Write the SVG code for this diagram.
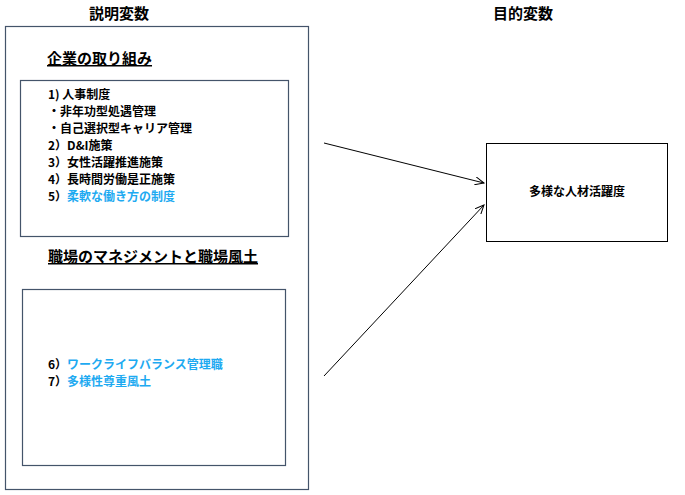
<svg xmlns="http://www.w3.org/2000/svg" width="685" height="495" viewBox="0 0 685 495">
<style>
.box{fill:#fff;stroke:#44546a;stroke-width:1.2}
.t{font-family:"Noto Sans CJK JP",sans-serif;font-weight:bold;font-size:12px;fill:#000}
.h{font-family:"Noto Sans CJK JP",sans-serif;font-weight:bold;font-size:15px;fill:#000}
.s{font-family:"Noto Sans CJK JP",serif;font-weight:bold;font-size:15px;fill:#000;text-decoration:underline}
.b{fill:#1eaaf1}
.c{stroke:#000;stroke-width:1;fill:none}
</style>
<defs><marker id="a" markerWidth="10" markerHeight="8" refX="9" refY="4" orient="auto" markerUnits="userSpaceOnUse"><path d="M0,0 L9,4 L0,8" fill="none" stroke="#000"/></marker></defs>
<rect width="685" height="495" fill="#fff"/>
<text class="h" x="89" y="19">説明変数</text>
<text class="h" x="493" y="19">目的変数</text>
<g id="outer"><rect class="box" x="5.5" y="26.5" width="303" height="463"/></g>
<g id="g1">
<text class="s" x="47" y="64">企業の取り組み</text>
<rect class="box" x="20.5" y="80.5" width="268" height="156"/>
<text class="t" x="48" y="99">1) 人事制度</text>
<text class="t" x="48" y="116">・非年功型処遇管理</text>
<text class="t" x="48" y="133">・自己選択型キャリア管理</text>
<text class="t" x="48" y="150">2）D&amp;I施策</text>
<text class="t" x="48" y="167">3）女性活躍推進施策</text>
<text class="t" x="48" y="184">4）長時間労働是正施策</text>
<text class="t" x="48" y="201">5）<tspan class="b">柔軟な働き方の制度</tspan></text>
</g>
<g id="g2">
<text class="s" x="48" y="262">職場のマネジメントと職場風土</text>
<rect class="box" x="22.5" y="289.5" width="263" height="176"/>
<text class="t" x="48" y="369">6）<tspan class="b">ワークライフバランス管理職</tspan></text>
<text class="t" x="48" y="386">7）<tspan class="b">多様性尊重風土</tspan></text>
</g>
<g id="target">
<rect x="486.5" y="143.5" width="181" height="98" fill="#fff" stroke="#000"/>
<text class="t" x="577" y="196" text-anchor="middle">多様な人材活躍度</text>
</g>
<g id="connectors">
<line class="c" x1="324" y1="143" x2="484" y2="183" marker-end="url(#a)"/>
<line class="c" x1="324" y1="376" x2="484" y2="205" marker-end="url(#a)"/>
</g>
</svg>
